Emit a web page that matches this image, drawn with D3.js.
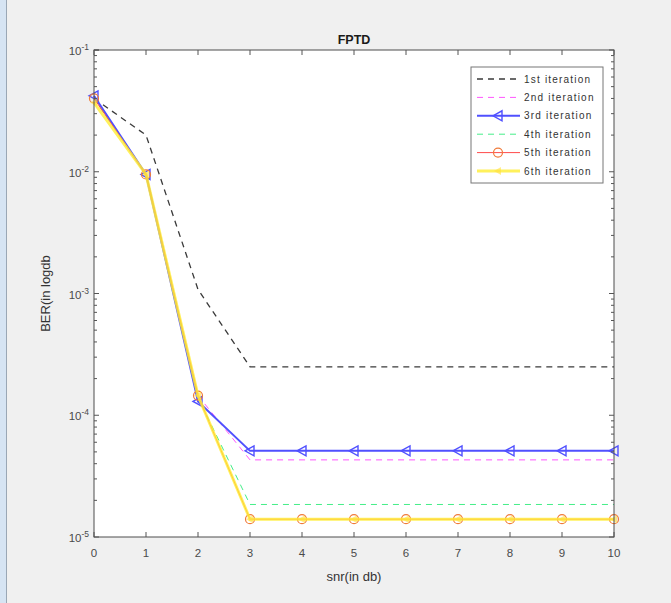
<!DOCTYPE html>
<html><head><meta charset="utf-8">
<script src="https://cdn.jsdelivr.net/npm/d3@7"></script>
<style>body{margin:0;background:#f0f0f0;}svg{display:block;font-family:"Liberation Sans",Arial,sans-serif;}</style>
</head><body><svg id="c" width="671" height="603"></svg>
<script>
const snr = [0,1,2,3,4,5,6,7,8,9,10];
const iter1 = [0.040,0.020,0.00108,2.5e-4,2.5e-4,2.5e-4,2.5e-4,2.5e-4,2.5e-4,2.5e-4,2.5e-4];
const iter2 = [0.040,0.0095,1.45e-4,4.3e-5,4.3e-5,4.3e-5,4.3e-5,4.3e-5,4.3e-5,4.3e-5,4.3e-5];
const iter3 = [0.042,0.0095,1.3e-4,5.1e-5,5.1e-5,5.1e-5,5.1e-5,5.1e-5,5.1e-5,5.1e-5,5.1e-5];
const iter4 = [0.040,0.0095,1.4e-4,1.85e-5,1.85e-5,1.85e-5,1.85e-5,1.85e-5,1.85e-5,1.85e-5,1.85e-5];
const iter5 = [0.040,0.0095,1.45e-4,1.4e-5,1.4e-5,1.4e-5,1.4e-5,1.4e-5,1.4e-5,1.4e-5,1.4e-5];
const iter6 = [0.037,0.0095,1.45e-4,1.4e-5,1.4e-5,1.4e-5,1.4e-5,1.4e-5,1.4e-5,1.4e-5,1.4e-5];
const seriesNames = ["1st iteration","2nd iteration","3rd iteration","4th iteration","5th iteration","6th iteration"];
const xTicks = [0,1,2,3,4,5,6,7,8,9,10];
const yTickExps = [-1,-2,-3,-4,-5];

const svg = d3.select("#c");
svg.append("rect").attr("x",0).attr("y",0).attr("width",6).attr("height",603).attr("fill","#d6e4f3");
svg.append("rect").attr("x",6).attr("y",0).attr("width",1).attr("height",603).attr("fill","#9aa7b5");

const L=94, R=614, T=50, B=537;
const x = d3.scaleLinear().domain([0,10]).range([L,R]);
const y = d3.scaleLog().domain([1e-5,1e-1]).range([B,T]);

svg.append("rect").attr("x",L).attr("y",T).attr("width",R-L).attr("height",B-T).attr("fill","#fff");

const g = svg.append("g");
const styles = [
 {data:iter1,color:"#3a3a3a",dash:"6,5",w:1.3},
 {data:iter2,color:"#ff55ff",dash:"6,5",w:1},
 {data:iter3,color:"#5050ff",dash:null,w:2,marker:"tri"},
 {data:iter4,color:"#44ee88",dash:"6,5",w:1},
 {data:iter5,color:"#ff4b4b",dash:null,w:1,marker:"circ"},
 {data:iter6,color:"#ffee33",dash:null,w:3,marker:"triY",op:0.8}
];
const line = d3.line().x((d,i)=>x(snr[i])).y(d=>y(d));
const drawMarker=(sel,s,px,py)=>{
  if(s.marker==="tri"){
    sel.append("path").attr("d",`M${px-5},${py} L${px+4},${py-5} L${px+4},${py+5} Z`).attr("fill","none").attr("stroke",s.color).attr("stroke-width",1.4);
  } else if(s.marker==="circ"){
    sel.append("circle").attr("cx",px).attr("cy",py).attr("r",4.5).attr("fill","none").attr("stroke","#f07a3a").attr("stroke-width",1.2);
  } else if(s.marker==="triY"){
    sel.append("path").attr("d",`M${px-4},${py} L${px+3},${py-4} L${px+3},${py+4} Z`).attr("fill","#ffe040").attr("opacity",0.6);
  }
};
styles.forEach(s=>{
  g.append("path").datum(s.data).attr("d",line).attr("fill","none")
   .attr("stroke",s.color).attr("stroke-width",s.w).attr("stroke-dasharray",s.dash)
   .attr("opacity",s.op||1);
  if(s.marker){ s.data.forEach((v,i)=>drawMarker(g,s,x(snr[i]),y(v))); }
});

const ax = svg.append("g").attr("stroke","#555").attr("stroke-width",1);
ax.append("rect").attr("x",L).attr("y",T).attr("width",R-L).attr("height",B-T).attr("fill","none").attr("stroke","#4d4d4d");
xTicks.forEach(t=>{
  ax.append("line").attr("x1",x(t)).attr("x2",x(t)).attr("y1",B).attr("y2",B-5);
  ax.append("line").attr("x1",x(t)).attr("x2",x(t)).attr("y1",T).attr("y2",T+5);
});
for(let e=-5;e<=-1;e++){
  for(let m=1;m<10;m++){
    const v=m*Math.pow(10,e); if(v>0.1+1e-12) continue;
    const len = m===1?5:3;
    ax.append("line").attr("x1",L).attr("x2",L+len).attr("y1",y(v)).attr("y2",y(v));
    ax.append("line").attr("x1",R).attr("x2",R-len).attr("y1",y(v)).attr("y2",y(v));
  }
}
ax.append("line").attr("x1",L).attr("x2",L+5).attr("y1",y(0.1)).attr("y2",y(0.1));

const lab = svg.append("g").attr("fill","#4a4a4a").attr("font-size",11.5);
xTicks.forEach(t=>lab.append("text").attr("x",x(t)).attr("y",557).attr("text-anchor","middle").text(t));
yTickExps.forEach(e=>{
  const t=lab.append("text").attr("x",L-5).attr("y",y(Math.pow(10,e))+5).attr("text-anchor","end");
  t.append("tspan").text("10");
  t.append("tspan").attr("dy",-5).attr("font-size",8.5).text(e);
});

svg.append("text").attr("x",(L+R)/2).attr("y",44).attr("text-anchor","middle").attr("font-size",12.5).attr("font-weight","bold").attr("fill","#1a1a1a").text("FPTD");
svg.append("text").attr("x",(L+R)/2).attr("y",581).attr("text-anchor","middle").attr("font-size",13).attr("fill","#333").text("snr(in db)");
svg.append("text").attr("transform",`translate(50,${(T+B)/2}) rotate(-90)`).attr("text-anchor","middle").attr("font-size",13).attr("fill","#333").text("BER(in logdb");

const lg = svg.append("g");
lg.append("rect").attr("x",471).attr("y",67).attr("width",132).attr("height",116).attr("fill","#fff").attr("stroke","#777");
styles.forEach((s,i)=>{
  const yy = 79 + i*18.4;
  lg.append("line").attr("x1",477).attr("x2",520).attr("y1",yy).attr("y2",yy)
    .attr("stroke",s.color).attr("stroke-width",s.w).attr("stroke-dasharray",s.dash).attr("opacity",s.op||1);
  if(s.marker) drawMarker(lg,s,498,yy);
  lg.append("text").attr("x",524).attr("y",yy+3.5).attr("font-size",10).attr("letter-spacing",1.2).attr("fill","#333").text(seriesNames[i]);
});
</script></body></html>
